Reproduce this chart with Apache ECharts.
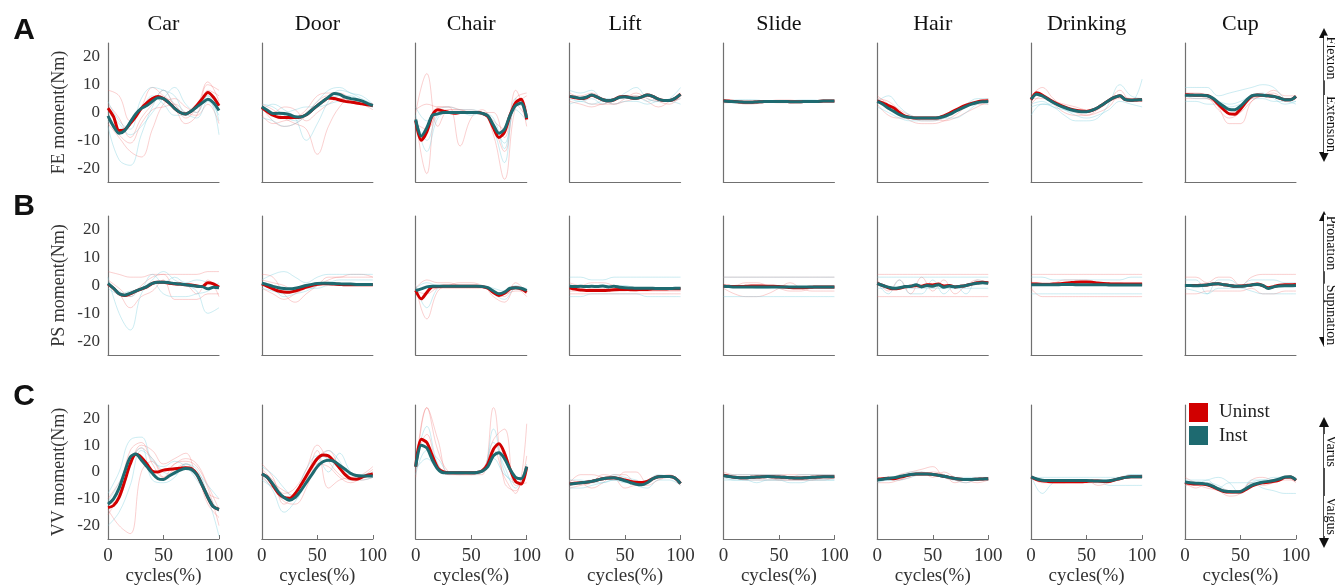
<!DOCTYPE html>
<html><head><meta charset="utf-8">
<script src="https://cdn.jsdelivr.net/npm/echarts@6/dist/echarts.min.js"></script>
<style>html,body{margin:0;padding:0;background:#fff}#c{width:1335px;height:587px}</style>
</head><body><div id="c"></div>
<script>
const tasks = ['Car','Door','Chair','Lift','Slide','Hair','Drinking','Cup'];
const yNames = ['FE moment(Nm)','PS moment(Nm)','VV moment(Nm)'];
const panelLetters = ['A','B','C'];
const dirTop = ['Flexion','Pronation','Varus'];
const dirBottom = ['Extension','Supination','Valgus'];
const yTicks = [-20,-10,0,10,20];
const pctMean = [0,5,10,15,20,25,30,35,40,45,50,55,60,65,70,75,80,85,90,95,100];
const pctTrial = [0,10,20,30,40,50,60,70,80,90,100];

// ---- mean curves (Uninst = red, Inst = teal) ----
const feUninst = [
 [1.6,-1.5,-6.5,-6.2,-4,-1.5,1.5,3.5,5,5.8,5,3.5,1.5,0,-0.5,0.5,2.5,5,7.2,5.5,2.4],
 [1.8,0.3,-1,-1.7,-1.8,-1.8,-1.8,-1.6,-0.8,0.8,2.5,4,5.2,5,4.5,4,3.8,3.4,3.1,2.8,2.5],
 [-3,-10,-7,-1,1,0.5,0,-0.3,0,0,0,0,-0.3,-1.5,-5.5,-9,-7,-1,3.5,4.8,-2.5],
 [5.8,5.3,5,5.3,6.2,5.5,4.6,4.2,4.6,5.6,5.8,5.3,5.1,5.6,6.3,5.8,4.8,4.3,4.3,5,6.6],
 [4.2,4.1,4,3.8,3.7,3.7,3.8,3.9,4,4,4,4,3.9,3.9,3.9,4,4,4,4.1,4.1,4.1],
 [4.2,3.5,2.5,1.6,0,-1.3,-1.8,-2,-2,-2,-2,-1.9,-1.2,-0.3,0.8,1.8,2.6,3.3,3.8,4.1,4.2],
 [4.6,7.1,6.3,5,3.8,2.8,2,1.3,0.8,0.5,0.4,0.8,1.7,3,4.3,5.4,6,4.6,4.4,4.5,4.6],
 [6.4,6.3,6.2,6.2,6.1,5,3,1,-0.5,-0.6,1.2,3.8,5.8,6.3,6.2,6,5.8,5.2,4.6,4.6,5.8]
];
const feInst = [
 [-1.2,-5,-7.5,-6.5,-3.5,-0.5,1.5,2.5,4,5.3,5,3.5,1.5,0,-0.5,0.5,2,3.5,4.8,3.5,0.7],
 [2.1,0.8,-0.4,-0.3,-0.4,-0.8,-1.5,-1.6,-0.8,0.8,2.5,4,5.5,6.8,6.5,5.5,5,4.7,4.2,3.3,2.5],
 [-2.5,-8.5,-5.5,-1,-0.5,0,0,0,0,0,0,0,-0.3,-1.2,-4.5,-7.5,-6,-1,2.5,3.4,-2],
 [5.8,5.5,5.1,5.5,6.3,5.5,4.6,4.2,4.6,5.5,5.7,5.3,5.1,5.6,6.3,5.8,4.8,4.3,4.3,5.1,6.5],
 [4.1,4,3.9,3.8,3.7,3.7,3.8,3.9,4,4,4,4,3.9,3.9,3.9,4,4,4,4.1,4.1,4.1],
 [4,3,1.5,0.4,-0.8,-1.5,-1.8,-2,-2,-2,-2,-1.9,-1.5,-0.7,0.3,1.3,2.2,3,3.6,3.9,4],
 [4.8,6.6,6,4.8,3.6,2.6,1.8,1.1,0.6,0.3,0.3,0.8,1.7,3,4.3,5.4,6,4.6,4.4,4.5,4.6],
 [6.2,6.2,6.2,6.2,6,5.2,3.6,2.2,1.1,1,2.3,4.3,6,6.3,6.2,6,5.8,5.2,4.6,4.6,5.8]
];
const psUninst = [
 [0.5,-1,-3,-3.6,-3,-2,-1.3,-0.5,0.8,1.2,1.2,0.8,0.6,0.5,0.3,0.2,-0.2,-0.4,1,0.6,-0.6],
 [0.6,-0.3,-1.2,-2,-2.3,-2.4,-2,-1.3,-0.6,0,0.4,0.6,0.6,0.5,0.4,0.3,0.3,0.3,0.3,0.3,0.3],
 [-1.8,-4.8,-2.5,-0.5,-0.4,-0.3,-0.3,-0.3,-0.3,-0.3,-0.3,-0.3,-0.4,-1,-2.5,-3.6,-2.8,-1.2,-0.8,-1.2,-2.4],
 [-0.8,-1.3,-1.6,-1.8,-1.8,-1.8,-1.8,-1.7,-1.5,-1.4,-1.4,-1.5,-1.5,-1.4,-1.4,-1.3,-1.3,-1.3,-1.2,-1.2,-1.2],
 [-0.2,-0.3,-0.4,-0.4,-0.3,-0.2,-0.2,-0.2,-0.3,-0.3,-0.4,-0.5,-0.7,-0.8,-0.8,-0.7,-0.6,-0.5,-0.5,-0.5,-0.5],
 [0.8,0,-0.8,-1.2,-1,-0.5,-0.3,0,-0.3,0.3,0.2,0.5,-0.2,0,-0.5,-0.3,0,0.5,1,1.2,1],
 [0.5,0.5,0.4,0.4,0.5,0.6,0.8,1,1.2,1.3,1.3,1.2,0.9,0.7,0.6,0.5,0.5,0.5,0.5,0.5,0.5],
 [0,0,0,0.1,0.2,0.5,0.6,0.3,0,-0.3,-0.2,0,0.2,0.5,0,-0.8,-0.4,0.1,0.3,0.3,0.4]
];
const psInst = [
 [0.8,-1,-3,-3.5,-2.8,-2,-1.2,-0.4,0.8,1.2,1.2,1,0.7,0.5,0.3,0,-0.3,-0.4,-1.2,-0.6,-0.8],
 [0.8,0.3,-0.3,-0.8,-1.1,-1.2,-1,-0.5,0,0.4,0.7,0.8,0.8,0.7,0.6,0.5,0.5,0.4,0.4,0.4,0.4],
 [-1.8,-1.2,-0.5,-0.3,-0.3,-0.3,-0.3,-0.3,-0.3,-0.3,-0.3,-0.3,-0.4,-0.8,-2,-3,-2.4,-1,-0.8,-1,-1.8],
 [-0.3,-0.4,-0.3,-0.4,-0.3,-0.4,-0.2,-0.5,-0.3,-0.6,-0.8,-0.9,-1,-1,-1,-1,-1.1,-1.1,-1.1,-1,-1],
 [-0.3,-0.4,-0.5,-0.5,-0.5,-0.5,-0.5,-0.5,-0.5,-0.5,-0.5,-0.5,-0.5,-0.5,-0.5,-0.5,-0.5,-0.5,-0.5,-0.5,-0.5],
 [0.8,0,-0.6,-1,-0.8,-0.4,-0.3,0.3,-0.5,0,-0.3,0.3,-0.6,-0.2,-0.5,-0.3,0,0.5,0.8,1,0.8],
 [0.3,0.3,0.3,0.3,0.3,0.3,0.4,0.4,0.3,0.3,0.3,0.3,0.3,0.3,0.2,0.2,0.2,0.2,0.2,0.2,0.2],
 [0,0,-0.1,0,0.2,0.5,0.6,0.3,0,-0.3,-0.3,-0.1,0.2,0.4,0,-1.1,-0.5,-0.2,-0.1,-0.1,0]
];
const vvUninst = [
 [-13.3,-12.5,-9.5,-3.5,3,6.6,5.5,3,0.3,0,0.7,1,1.2,1.4,1.6,1.3,-0.8,-5,-9.5,-13,-14],
 [-0.7,-2,-5,-8,-9.5,-9.8,-8,-5,-1.5,2,5,6.3,6,4,1.5,-1,-2.5,-2.7,-2,-1.2,-0.7],
 [2,12.2,11,6,1.5,0,-0.3,-0.3,-0.3,-0.3,-0.3,-0.2,0.5,3,8.5,10.5,7,1,-3.5,-4.5,2],
 [-4.5,-4.2,-4,-3.8,-3.5,-3,-2.5,-2.2,-2.1,-2.5,-3,-3.5,-3.8,-3.9,-3.5,-2.5,-1.8,-1.7,-1.7,-2.2,-4.3],
 [-1.2,-1.6,-2,-2.1,-2.1,-2,-1.9,-1.8,-1.7,-1.8,-1.9,-2,-2.1,-2.2,-2.2,-2.1,-2,-1.9,-1.8,-1.8,-1.8],
 [-2.7,-2.5,-2.3,-2.5,-2,-1.5,-1,-0.7,-0.7,-0.7,-0.9,-1.2,-1.6,-2,-2.4,-2.7,-2.8,-2.8,-2.7,-2.6,-2.5],
 [-1.8,-2.8,-3.3,-3.5,-3.6,-3.6,-3.6,-3.6,-3.6,-3.6,-3.5,-3.4,-3.4,-3.5,-3.5,-3,-2.5,-2,-1.8,-1.8,-1.8],
 [-3.9,-4.3,-4.5,-4.5,-4.8,-5.5,-6.5,-7.3,-7.5,-7.5,-7.5,-6.5,-5.3,-4.5,-4,-3.8,-3.5,-3,-2,-1.9,-3.1]
];
const vvInst = [
 [-12,-10,-6,0,5.5,6.7,4.5,2,-0.5,-2.5,-2.8,-1.5,-0.3,0.7,1.3,1,-1,-5,-9.5,-13,-14],
 [-0.7,-2,-4.5,-7.5,-9.5,-10.5,-9.5,-7,-4,-1,2,3.8,4.4,4,2.5,1,-0.5,-1.3,-1.5,-1.5,-1.5],
 [2,10,9,4.5,1,-0.3,-0.3,-0.3,-0.3,-0.3,-0.3,-0.2,0.3,2,6,7.2,5,1,-2,-2.5,2],
 [-4.5,-4.3,-4,-3.8,-3.5,-3,-2.5,-2.2,-2.1,-2.6,-3.3,-4,-4.6,-4.8,-4,-2.5,-1.8,-1.7,-1.7,-2.2,-4.3],
 [-1.3,-1.7,-2,-2.1,-2.1,-2,-1.9,-1.8,-1.7,-1.8,-1.9,-2,-2.1,-2.2,-2.2,-2.1,-2,-1.9,-1.8,-1.8,-1.8],
 [-3,-2.7,-2.3,-2.1,-1.7,-1.3,-0.9,-0.7,-0.7,-0.7,-0.9,-1.2,-1.6,-2,-2.4,-2.7,-2.8,-2.8,-2.7,-2.6,-2.5],
 [-1.8,-2.6,-3.1,-3.2,-3.2,-3.2,-3.2,-3.2,-3.2,-3.2,-3.2,-3.3,-3.4,-3.4,-3.3,-2.9,-2.4,-2,-1.8,-1.8,-1.8],
 [-3.7,-4,-4.2,-4.3,-4.6,-5.3,-6.3,-7.1,-7.3,-7.4,-7.3,-6.2,-5,-4.3,-3.8,-3.5,-3.2,-2.6,-1.9,-1.8,-3]
];

// ---- individual trials (faint) ----
const feUninstTrials = [
 [[8,6,-3,2,9,6,3,-2,2,11,4],[-4,-9,-14,-16,-6,3,5,2,0,8,6],[3,-2,-9,-2,3,8,2,-4,-1,10,8],[-2,-8,-11,-4,1,2,3,0,-1,3,-4]],
 [[3,1,-2,-4,-6,-15,-5,2,5,4,3],[2,-3,-5,-4,-1,4,6,5,5,4,3],[-1,-4,-3,-2,1,6,7,7,5,3,2],[1,0,2,1,-3,0,3,5,4,3,1]],
 [[0,14,-5,1,1,0,0,-8,-24,2,6],[-2,-22,2,2,1,0,0,-5,-14,5,7],[1,3,2,2,-12,-2,1,-3,-6,8,-5],[-4,-6,0,1,1,1,0,0,-9,3,-2]],
 [[7,5,3,3,5,6,6,4,2,4,7],[4,3,2,3,3,5,7,5,4,4,5],[6,6,7,5,3,4,5,6,4,3,6]],
 [[4.5,4,3,3.2,4,4.5,4.5,4,4,4.2,4.2],[3.5,3.6,3.8,4,3.8,3.5,3.5,3.8,4,4,3.8]],
 [[6,3,0,-3,-4,-4,-3,-1,2,4,5],[3,-1,-2,-2,-3,-3,-2,0,2,3,3],[5,4,1,-1,-2,-2,-3,-2,0,2,4]],
 [[6,9,5,2,0,-1,0,2,6,5,5],[3,6,3,0,-1,-1,1,4,8,4,4],[5,5,4,3,2,1,2,4,5,5,4]],
 [[7,7,6,2,-4,-4,4,6,7,5,5],[6,6,5,3,0,1,5,6,8,6,6],[5,5,5,1,-2,0,4,6,6,4,5]]
];
const feInstTrials = [
 [[-5,-17,-19,-8,2,8,3,0,2,5,-8],[4,-3,-6,5,9,8,6,0,2,6,-3],[0,-4,-8,-5,0,5,9,3,0,6,3],[-3,-6,-4,1,6,3,-1,-1,-2,4,-1]],
 [[1,3,1,-2,-10,-4,4,8,7,5,3],[3,2,-1,-3,0,4,8,9,7,6,3],[-2,-3,-5,-4,-1,3,5,6,6,4,2],[2,0,0,1,2,2,3,4,4,3,2]],
 [[-1,-14,-2,0,0,0,0,-6,-18,3,2],[2,-3,1,2,1,1,0,-2,-13,5,0],[-3,-10,-1,0,0,-1,0,-4,-11,1,-3]],
 [[8,7,8,5,5,7,9,5,4,5,9],[5,4,5,3,5,5,6,4,5,4,5],[3,4,3,4,3,4,4,3,4,4,3]],
 [[4,4.5,4.6,4.5,4,4,4.2,4.5,4.5,4.2,4],[3.8,3.5,3.8,3.9,3.6,3.6,3.7,3.6,3.8,3.7,3.8]],
 [[4,6,2,-1,-2,-2,-1,1,3,5,5],[2,0,-2,-3,-3,-3,-2,0,3,4,3],[5,2,0,-2,-2,-2,-2,-2,0,3,4]],
 [[-1,3,2,-1,-3,-3,-2,3,10,6,5],[3,4,2,1,0,0,2,4,6,4,12],[2,3,3,1,-1,-2,-1,1,4,3,2]],
 [[9,9,9,6,7,8,9,10,9,5,4],[6,5,5,4,3,4,6,7,5,3,4],[4,4,3,3,2,3,5,5,4,4,3]]
];
const psUninstTrials = [
 [[5,4,3,3,4,4,4,4,4,5,5],[0,-3,-8,-4,-2,2,-5,-5,-5,-3,-3],[2,-1,-4,0,3,4,0,0,-3,2,-4]],
 [[4,3,-3,-6,-3,0,3,3,4,4,3],[-1,-3,-5,-3,-1,1,1,0,0,0,0],[2,1,0,-2,-1,0,2,3,3,3,3]],
 [[0,-12,-2,0,1,1,0,-2,-4,1,-3],[-1,2,1,1,0,0,0,-4,-6,-1,-4],[-2,-3,-1,-1,-1,-1,-1,-2,-3,-2,-2]],
 [[-3,-3,-3,-3,-3,-3,-3,-3,-3,-3,-3],[1,0,1,1,0,-1,-2,-2,-2,-2,-2],[-2,-2,-1,-1,-2,-2,-1,-1,-1,-1,-1]],
 [[3,3,3,3,3,3,3,3,3,3,3],[-1,-3,-4,-4,-3,-1,1,-1,-2,-2,-2],[0,0,1,1,0,-1,-2,-2,-1,-1,-1]],
 [[4,4,4,4,4,4,4,4,4,4,4],[-4,-4,-4,-4,-4,-4,-4,-4,-4,-4,-4],[2,-2,2,-3,3,-2,2,-3,0,2,1]],
 [[4,4,4,4,4,4,4,4,4,4,4],[-1,-4,-4,-4,-4,-4,-4,-4,-4,-4,-4],[1,1,1,2,2,2,1,1,1,0,0]],
 [[3,3,1,3,3,0,3,4,4,4,4],[-3,-3,-2,-2,-2,-2,-1,-3,-3,-2,-2]]
];
const psInstTrials = [
 [[3,-10,-16,-3,2,5,2,0,-2,-10,-8],[-1,-3,-2,-1,4,1,3,1,2,1,-1],[0,-2,-4,-1,1,-3,-4,-4,-3,-2,1]],
 [[2,4,5,3,1,3,4,4,4,4,4],[1,-1,-4,-3,-2,0,1,2,2,2,2],[-1,-2,-3,-2,-1,-1,0,0,0,0,0]],
 [[0,-8,-1,0,0,0,0,-3,-5,-1,-1],[-1,1,0,0,0,0,0,-1,-2,0,-2]],
 [[3,3,2,2,3,3,3,3,3,3,3],[-4,-4,-3,-3,-3,-3,-3,-4,-4,-4,-4],[0,0,0,0,0,0,-1,-1,-1,-1,-1]],
 [[3,3,3,3,3,3,3,3,3,3,3],[-4,-4,-4,-4,-4,-4,-4,-4,-4,-4,-4],[0,0,0,-1,-1,0,-1,-1,-1,-1,-1]],
 [[3,3,3,3,3,3,3,3,3,3,3],[1,-3,2,-3,-3,2,-3,0,-3,2,1],[-1,-1,-1,-1,-1,-1,-1,-1,-1,-1,-1]],
 [[3,3,2,2,2,2,2,2,2,3,3],[-3,-3,-3,-3,-3,-3,-3,-3,-3,-3,-3]],
 [[2,2,-3,2,2,0,2,2,2,1,1],[-1,-2,-3,-1,-1,-1,-2,-3,-3,-3,-3]]
];
const vvUninstTrials = [
 [[-10,-4,3,10,8,3,5,7,-2,-8,-10],[-14,-20,-23,0,4,-2,3,4,2,-6,-20],[-12,-10,2,9,5,0,3,5,3,-5,-14],[-16,-8,8,11,3,-2,1,3,-1,-12,-17]],
 [[1,-3,-8,-6,1,10,4,-1,-3,-2,0],[-2,-6,-11,-12,-6,5,8,2,-2,-3,-2],[0,-4,-7,-9,-3,3,2,-2,-4,-2,1],[3,-2,-12,-8,-2,8,-6,-3,-2,-1,2]],
 [[0,24,12,-1,-1,-1,-1,24,-4,-7,6],[5,14,2,0,0,0,0,12,16,-5,-4],[-2,24,8,0,-1,-1,1,8,-2,-8,18]],
 [[-4,-1,-1,-2,-3,0,0,-4,-2,-2,-3],[-6,-5,-4,-1,-2,-6,-5,-5,-3,-2,-5],[-3,-4,-6,-4,-1,-1,-4,-4,-2,-1,-4]],
 [[0,-1,-1,-1,-1,-1,-1,-1,-1,-1,-1],[-1,-2,-3,-3,-3,-3,-3,-3,-3,-3,-2],[-2,-2,-2,-2,-2,-3,-3,-3,-3,-2,-2]],
 [[-3,-2,-3,-1,-1,0,-1,-4,-3,-3,-2],[-2,-3,-1,0,1,2,-2,-3,-4,-3,-3],[-4,-4,-3,-2,0,-2,0,-2,-3,-4,-3]],
 [[-2,-3,-4,-4,-4,-4,-4,-4,-2,-2,-2],[-2,-4,-4,-4,-3,-3,-5,-4,-2,-2,-1]],
 [[-2,-4,-5,-6,-7,-8,-5,-4,-3,-2,-3],[-5,-5,-6,-7,-9,-8,-3,-2,-3,-2,-4],[-4,-6,-4,-6,-8,-7,-4,-5,-4,-3,-3]]
];
const vvInstTrials = [
 [[-8,0,12,13,4,2,4,2,-3,-10,-24],[-20,-15,-5,8,5,0,-1,3,0,-5,-10],[-11,-4,5,9,-3,-4,-2,3,1,-8,-15]],
 [[-1,-7,-15,-11,-4,3,8,4,-3,-2,-1],[2,-1,-6,-10,-2,5,0,7,0,-3,-2],[-3,-6,-10,-8,1,6,5,1,-1,-1,0]],
 [[3,17,3,-1,0,0,0,16,0,-4,0],[-1,8,5,0,0,-1,0,11,2,-6,3],[1,5,1,0,-1,0,0,5,-1,-3,1]],
 [[-5,-4,-3,-3,-1,-2,-3,-4,-2,-2,-4],[-3,-3,-4,-4,-3,-4,-4,-3,-1,-2,-4],[-6,-6,-5,-4,-3,-3,-5,-6,-3,-3,-5]],
 [[-1,-1,-1,-1,-1,-1,-2,-1,-1,-1,-1],[-2,-3,-3,-4,-3,-3,-3,-3,-3,-3,-3],[-3,-3,-3,-3,-3,-3,-4,-4,-3,-3,-3]],
 [[-2,-3,-2,0,0,-1,-2,-2,-2,-2,-2],[-4,-3,-3,-2,-1,-1,-2,-3,-3,-3,-3],[-3,-3,-2,-1,-1,-1,-1,-3,-4,-3,-3]],
 [[-1,-8,-4,-3,-3,-3,-3,-5,-5,-5,-5],[-2,-3,-3,-3,-3,-3,-3,-3,-2,-1,-1],[-3,-2,-2,-2,-2,-2,-2,-2,-2,-1,-1]],
 [[-3,-3,-3,-6,-4,-4,-4,-6,-7,-8,-8],[-5,-4,-4,-5,-7,-7,-4,-3,-3,-2,-3],[-4,-4,-3,-2,-4,-8,-3,-3,-2,-2,-2]]
];

const uninstRows = [feUninst, psUninst, vvUninst];
const instRows = [feInst, psInst, vvInst];
const uninstTrialRows = [feUninstTrials, psUninstTrials, vvUninstTrials];
const instTrialRows = [feInstTrials, psInstTrials, vvInstTrials];

// ---- layout ----
const COL0 = 108, COLSTEP = 153.85, PW = 111, PH = 139;
const ROWTOP = [43, 216, 405];
const SERIF = '"Liberation Serif","Times New Roman",serif';
const RED = '#d10000', TEAL = '#1e6a70';
const RED_FAINT = 'rgba(240,110,110,0.32)', CYAN_FAINT = 'rgba(120,205,220,0.38)';

const grids = [], xAxes = [], yAxes = [], series = [];
for (let r = 0; r < 3; r++) {
  for (let c = 0; c < 8; c++) {
    const i = r * 8 + c;
    grids.push({ left: COL0 + c * COLSTEP, top: ROWTOP[r], width: PW, height: PH });
    xAxes.push({
      type: 'value', gridIndex: i, min: 0, max: 100, interval: 50,
      axisLine: { show: true, onZero: false, lineStyle: { color: '#707070', width: 1.2 } },
      axisTick: { show: r === 2, inside: true, length: 4, lineStyle: { color: '#707070' } },
      axisLabel: { show: r === 2, fontFamily: SERIF, fontSize: 19, color: '#333', margin: 8 },
      splitLine: { show: false },
      name: r === 2 ? 'cycles(%)' : '', nameLocation: 'middle', nameGap: 28,
      nameTextStyle: { fontFamily: SERIF, fontSize: 19, color: '#333' }
    });
    yAxes.push({
      type: 'value', gridIndex: i, min: -25, max: 25,
      axisLine: { show: true, onZero: false, lineStyle: { color: '#707070', width: 1.2 } },
      axisTick: { show: false },
      axisLabel: { show: c === 0, customValues: yTicks, fontFamily: SERIF, fontSize: 17, color: '#333', margin: 8 },
      splitLine: { show: false },
      name: c === 0 ? yNames[r] : '', nameLocation: 'middle', nameGap: 40,
      nameTextStyle: { fontFamily: SERIF, fontSize: 18, color: '#333' }
    });
    uninstTrialRows[r][c].forEach(tr => series.push({
      type: 'line', xAxisIndex: i, yAxisIndex: i, silent: true, smooth: 0.4, symbol: 'none', z: 1,
      lineStyle: { width: 1, color: RED_FAINT }, data: pctTrial.map((x, k) => [x, tr[k]])
    }));
    instTrialRows[r][c].forEach(tr => series.push({
      type: 'line', xAxisIndex: i, yAxisIndex: i, silent: true, smooth: 0.4, symbol: 'none', z: 1,
      lineStyle: { width: 1, color: CYAN_FAINT }, data: pctTrial.map((x, k) => [x, tr[k]])
    }));
    series.push({
      name: 'Uninst', type: 'line', xAxisIndex: i, yAxisIndex: i, smooth: 0.3, symbol: 'none', z: 3,
      itemStyle: { color: RED }, lineStyle: { width: 3, color: RED },
      data: pctMean.map((x, k) => [x, uninstRows[r][c][k]])
    });
    series.push({
      name: 'Inst', type: 'line', xAxisIndex: i, yAxisIndex: i, smooth: 0.3, symbol: 'none', z: 4,
      itemStyle: { color: TEAL }, lineStyle: { width: 3, color: TEAL },
      data: pctMean.map((x, k) => [x, instRows[r][c][k]])
    });
  }
}

const graphic = [];
tasks.forEach((t, c) => graphic.push({
  type: 'text', x: COL0 + c * COLSTEP + PW / 2, y: 24,
  style: { text: t, font: '22px ' + SERIF, fill: '#111', align: 'center', verticalAlign: 'middle' }
}));
panelLetters.forEach((l, r) => graphic.push({
  type: 'text', x: 24, y: [31, 207, 397][r],
  style: { text: l, font: 'bold 30px "Liberation Sans",Arial,sans-serif', fill: '#111', align: 'center', verticalAlign: 'middle' }
}));
// direction arrows on the right
const arrowSpan = [[28, 162], [211, 347], [417, 548]];
const topTextY = [58, 243, 451];
const botTextY = [124, 315, 516];
const AX = 1324;
for (let r = 0; r < 3; r++) {
  const [y0, y1] = arrowSpan[r];
  graphic.push({ type: 'line', shape: { x1: AX, y1: y0 + 6, x2: AX, y2: y1 - 6 }, style: { stroke: '#111', lineWidth: 1.5 } });
  graphic.push({ type: 'polygon', shape: { points: [[AX, y0], [AX - 5, y0 + 10], [AX + 5, y0 + 10]] }, style: { fill: '#111' } });
  graphic.push({ type: 'polygon', shape: { points: [[AX, y1], [AX - 5, y1 - 10], [AX + 5, y1 - 10]] }, style: { fill: '#111' } });
  graphic.push({ type: 'text', x: 1331, y: topTextY[r], rotation: -Math.PI / 2, z: 10,
    style: { text: dirTop[r], font: '14px ' + SERIF, fill: '#111', align: 'center', verticalAlign: 'middle', backgroundColor: '#fff', padding: [0, 1, 0, 1] } });
  graphic.push({ type: 'text', x: 1331, y: botTextY[r], rotation: -Math.PI / 2, z: 10,
    style: { text: dirBottom[r], font: '14px ' + SERIF, fill: '#111', align: 'center', verticalAlign: 'middle', backgroundColor: '#fff', padding: [0, 1, 0, 1] } });
}
// legend swatches
graphic.push({ type: 'rect', shape: { x: 1189, y: 403, width: 19, height: 19 }, style: { fill: RED }, z: 10 });
graphic.push({ type: 'rect', shape: { x: 1189, y: 426, width: 19, height: 19 }, style: { fill: TEAL }, z: 10 });
graphic.push({ type: 'text', x: 1219, y: 412, z: 10, style: { text: 'Uninst', font: '19px ' + SERIF, fill: '#222', verticalAlign: 'middle' } });
graphic.push({ type: 'text', x: 1219, y: 436, z: 10, style: { text: 'Inst', font: '19px ' + SERIF, fill: '#222', verticalAlign: 'middle' } });

const chart = echarts.init(document.getElementById('c'), null, { renderer: 'canvas' });
chart.setOption({
  animation: false,
  backgroundColor: '#fff',
  grid: grids, xAxis: xAxes, yAxis: yAxes, series: series, graphic: graphic
});
</script></body></html>
